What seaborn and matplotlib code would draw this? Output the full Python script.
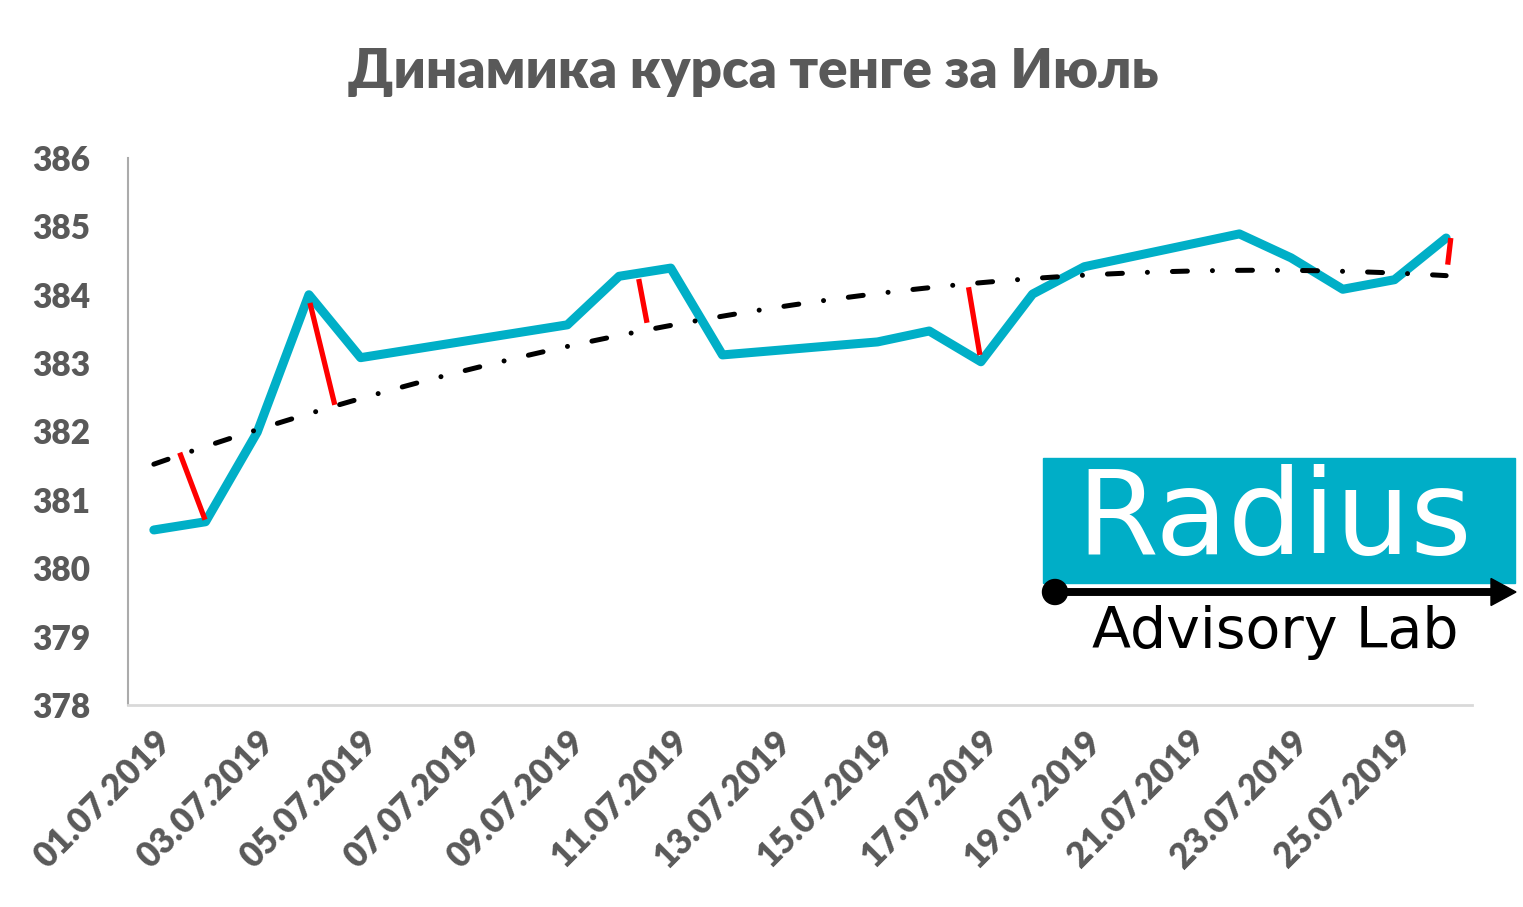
import numpy as np
import pandas as pd
import matplotlib
matplotlib.use("Agg")
import matplotlib.pyplot as plt
import seaborn as sns
from matplotlib.patches import Rectangle, Circle, FancyArrow

# ---- data ----
dates = ["01.07.2019", "02.07.2019", "03.07.2019", "04.07.2019", "05.07.2019",
         "09.07.2019", "10.07.2019", "11.07.2019", "12.07.2019", "15.07.2019",
         "16.07.2019", "17.07.2019", "18.07.2019", "19.07.2019", "22.07.2019",
         "23.07.2019", "24.07.2019", "25.07.2019", "26.07.2019"]
rates = [380.56, 380.68, 381.99, 384.00, 383.08,
         383.56, 384.27, 384.39, 383.12, 383.31,
         383.47, 383.02, 384.01, 384.41, 384.89,
         384.54, 384.08, 384.22, 384.83]
tick_dates = ["01.07.2019", "03.07.2019", "05.07.2019", "07.07.2019", "09.07.2019",
              "11.07.2019", "13.07.2019", "15.07.2019", "17.07.2019", "19.07.2019",
              "21.07.2019", "23.07.2019", "25.07.2019"]
y_ticks = [378, 379, 380, 381, 382, 383, 384, 385, 386]
# residual markers (start day, start value, end day, end value)
resid_x0 = [0.50, 3.02, 9.38, 15.76, 25.09]
resid_y0 = [381.69, 383.88, 384.23, 384.11, 384.83]
resid_x1 = [0.99, 3.50, 9.54, 15.98, 25.03]
resid_y1 = [380.71, 382.39, 383.59, 383.12, 384.44]

title = "Динамика курса тенге за Июль"

start = pd.to_datetime("01.07.2019", format="%d.%m.%Y")
day = (pd.to_datetime(dates, format="%d.%m.%Y") - start).days.astype(float)
tick_day = (pd.to_datetime(tick_dates, format="%d.%m.%Y") - start).days.astype(float)
df = pd.DataFrame({"day": day, "rate": rates})

sns.set_theme(style="white")
plt.rcParams["font.family"] = ["Lato", "DejaVu Sans"]

TEAL = "#00AFC7"
GRAY = "#595959"
WEIGHT = "heavy"

fig = plt.figure(figsize=(15.23, 9.07), dpi=100)
ax = fig.add_axes([128 / 1523, 1 - 705 / 907, (1472 - 128) / 1523, (705 - 158) / 907])

sns.regplot(data=df, x="day", y="rate", order=2, ci=None, scatter=False, ax=ax,
            line_kws=dict(color="black", lw=3.6, dashes=(3.0, 5.0, 0.01, 5.0),
                          dash_capstyle="round", zorder=3))
sns.lineplot(data=df, x="day", y="rate", ax=ax, color=TEAL, lw=6.5,
             solid_capstyle="round", solid_joinstyle="round", zorder=2)

for x0, y0, x1, y1 in zip(resid_x0, resid_y0, resid_x1, resid_y1):
    ax.plot([x0, x1], [y0, y1], color="#FF0000", lw=3.8, solid_capstyle="butt", zorder=4)

ax.set_xlim(-0.5, 25.5)
ax.set_ylim(378, 386)
ax.set_xlabel("")
ax.set_ylabel("")

ax.set_yticks(y_ticks)
ax.set_yticklabels([str(v) for v in y_ticks], fontsize=24, fontweight=WEIGHT, color=GRAY)
ax.tick_params(axis="y", length=0, pad=27)

ax.set_xticks(np.arange(-0.5, 26, 2))
ax.set_xticklabels([])
ax.set_xticks(tick_day, minor=True)
ax.set_xticklabels(tick_dates, minor=True, rotation=45, ha="right", va="top",
                   rotation_mode="anchor", fontsize=25, fontweight=WEIGHT, color=GRAY)
ax.tick_params(axis="x", which="major", length=7, width=2, color="#D9D9D9", direction="out")
ax.tick_params(axis="x", which="minor", length=0, pad=14)

for s in ["top", "right"]:
    ax.spines[s].set_visible(False)
ax.spines["left"].set_color("#ABABAB")
ax.spines["left"].set_linewidth(1.5)
ax.spines["bottom"].set_color("#D9D9D9")
ax.spines["bottom"].set_linewidth(2)
ax.grid(False)

fig.text(753 / 1523, 1 - 72 / 907, title, ha="center", va="center",
         fontsize=39.5, fontweight=WEIGHT, color=GRAY)

# logo
W, H = 1523, 907
inch = fig.dpi_scale_trans
fig.patches.append(Rectangle((10.43, (H - 583) / 100), (1515 - 1043) / 100, (583 - 458) / 100,
                             transform=inch, color="#00AEC7", zorder=5))
fig.text(1274 / W, 1 - 522 / H, "Radius", ha="center", va="center", color="white",
         fontsize=85, family="DejaVu Sans", zorder=6)
fig.patches.append(FancyArrow(10.55, (H - 592) / 100, (1491 - 1055) / 100, 0,
                              width=0.065, head_width=0.27, head_length=0.25,
                              length_includes_head=False, color="black",
                              transform=inch, zorder=6))
fig.patches.append(Circle((10.55, (H - 592) / 100), 0.125, transform=inch,
                          color="black", zorder=7))
fig.text(1275 / W, 1 - 632 / H, "Advisory Lab", ha="center", va="center", color="black",
         fontsize=41, family="DejaVu Sans", zorder=6)

fig.savefig("out.png", dpi=100)
